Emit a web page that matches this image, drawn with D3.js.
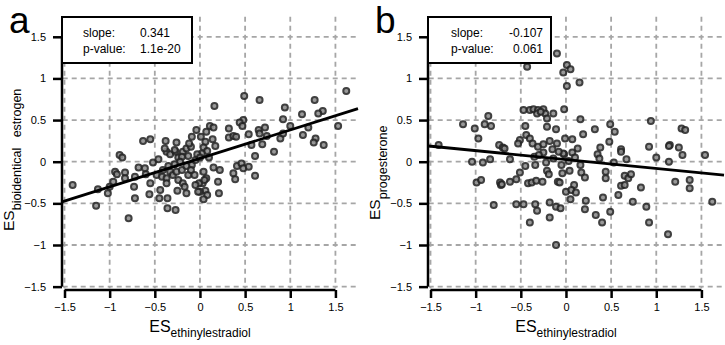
<!DOCTYPE html>
<html><head><meta charset="utf-8">
<script src="https://cdn.jsdelivr.net/npm/d3@7"></script>
<style>
body{margin:0;background:#fff}
svg{display:block}
text{font-family:"Liberation Sans",Arial,Helvetica,sans-serif}
</style>
</head><body>
<svg id="c" width="725" height="345"></svg>
<script>
// ---------------- data ----------------
const tickValues = [-1.5, -1, -0.5, 0, 0.5, 1, 1.5];
const panelLetters = ["a", "b"];
const xTitleMain = "ES", xTitleSub = "ethinylestradiol";
const yTitleSubs = ["bioidentical\u00a0\u00a0\u00a0estrogen", "progesterone"];
const slopes = [0.341, -0.107];
const intercepts = [0.04, 0.026];
const slopeLabels = ["0.341", "-0.107"];
const pValueLabels = ["1.1e-20", "0.061"];

// panel a: ES ethinylestradiol (x) vs ES bioidentical estrogen (y)
const pointsA = [
[1.62,0.85],[1.27,0.74],[1.36,0.61],[1.31,0.58],[1.13,0.57],[0.94,0.65],[0.92,0.51],[1.00,0.43],[1.20,0.41],[1.14,0.32],
[1.28,0.28],[1.26,0.23],[1.37,0.20],[1.53,0.43],[0.89,0.28],[0.92,0.34],[0.82,0.12],[0.66,0.74],[0.49,0.79],[0.16,0.67],
[0.72,0.41],[0.65,0.38],[0.66,0.34],[0.74,0.31],[0.54,0.33],[0.57,0.20],[0.69,0.21],[0.61,0.07],[0.48,0.50],[0.44,0.47],
[0.47,0.43],[0.32,0.40],[0.32,0.29],[0.37,0.31],[0.40,0.30],[0.11,0.43],[0.15,0.41],[0.07,0.36],[0.14,0.27],[0.17,0.19],
[0.06,0.24],[0.04,0.17],[0.08,0.13],[0.02,0.10],
[0.15,-0.07],[0.22,-0.10],[0.41,-0.05],[0.46,-0.02],[0.48,-0.08],[0.54,-0.06],[0.37,-0.14],[0.61,-0.17],[0.04,-0.12],[0.39,-0.21],
[0.20,-0.24],[0.21,-0.38],[0.07,-0.20],[0.03,-0.26],[0.06,-0.35],[0.08,-0.40],[0.04,-0.45],[0.00,-0.36],
[-1.41,-0.28],[-1.15,-0.53],[-0.79,-0.68],[-1.13,-0.33],[-1.02,-0.38],[-1.00,-0.30],[-0.89,0.08],[-0.86,0.05],[-0.94,-0.12],[-0.92,-0.15],
[-0.83,-0.13],[-0.83,-0.20],[-0.96,-0.24],[-0.72,-0.18],[-0.72,-0.44],[-0.73,-0.30],[-0.68,-0.07],[-0.61,-0.08],[-0.55,-0.26],[-0.56,-0.39],
[-0.52,-0.01],[-0.46,0.03],[-0.48,-0.16],[-0.42,-0.18],[-0.44,-0.34],[-0.45,-0.44],[-0.36,-0.44],[-0.36,-0.56],[-0.27,-0.58],[-0.41,-0.10],
[-0.37,-0.20],[-0.37,-0.26],[-0.33,-0.12],[-0.30,-0.16],[-0.26,-0.12],[-0.24,-0.22],[-0.20,-0.10],[-0.19,-0.26],[-0.17,-0.30],[-0.15,-0.38],
[-0.13,-0.16],[-0.09,-0.04],[-0.06,-0.16],[-0.02,-0.36],[-0.01,-0.26],[0.05,-0.22],
[-0.37,0.12],[-0.33,0.09],[-0.27,0.12],[-0.24,0.05],[-0.19,0.12],[-0.13,0.07],[-0.03,0.09],
[-0.63,0.25],[-0.55,0.27],[-0.38,0.25],[-0.26,0.23],[-0.39,0.16],[-0.28,0.14],[-0.20,0.06],[-0.15,0.16],[-0.09,0.30],[-0.04,0.38],
[-0.10,0.18],[-0.05,0.02],[0.00,0.05],[-0.15,-0.05],[-0.22,0.00],[-0.28,-0.03],[-0.12,0.22],[0.01,0.30],[0.10,0.05],[-0.35,-0.05],
[-0.10,-0.10],[-0.05,-0.28],[-0.25,-0.35],[-0.60,-0.15]
];

// panel b: ES ethinylestradiol (x) vs ES progesterone (y)
const pointsB = [
[-0.10,1.30],[-0.43,1.14],[0.01,1.16],[0.05,1.11],[-0.03,1.07],[0.01,0.91],[0.15,0.95],
[-0.86,0.55],[-0.47,0.62],[-0.40,0.62],[-0.36,0.63],[-0.31,0.62],[-0.25,0.63],[-0.32,0.58],[-0.23,0.58],[-0.21,0.52],[-0.02,0.63],[0.16,0.51],[0.94,0.49],
[-0.21,0.42],[-0.11,0.39],[-0.01,0.28],[-0.10,0.22],[-0.45,0.43],[-0.44,0.32],[-0.51,0.26],[-0.40,0.28],[-0.37,0.22],[-0.31,0.18],
[-1.14,0.45],[-0.90,0.45],[-0.83,0.43],[-1.01,0.40],[-0.97,0.28],[-0.74,0.20],[-0.70,0.17],[-1.41,0.20],
[0.49,0.45],[0.54,0.36],[0.32,0.39],[0.19,0.33],[0.07,0.27],[0.48,0.24],[1.28,0.40],[1.32,0.38],[0.92,0.18],[1.15,0.20],[1.25,0.17],[0.38,0.17],[0.61,0.15],[0.13,0.16],
[-1.04,0.00],[-0.92,-0.01],[-0.84,0.03],[-0.68,0.16],[-0.62,0.03],[-0.99,-0.25],[-0.94,-0.22],[-0.73,-0.25],[-0.72,-0.28],[-0.71,-0.27],
[-0.62,-0.24],[-0.55,-0.21],[-0.51,-0.13],[-0.45,-0.05],[-0.53,0.22],[-0.42,-0.26],[-0.38,-0.25],[-0.33,-0.23],[-0.26,-0.24],[-0.35,0.06],
[-0.34,-0.04],[-0.25,0.21],[-0.25,0.11],[-0.22,-0.01],[-0.21,-0.11],[-0.19,-0.15],[-0.14,0.04],[-0.09,-0.24],[-0.05,-0.04],[-0.04,-0.14],
[-0.02,0.09],[0.00,-0.36],
[-0.80,-0.52],[-0.55,-0.51],[-0.47,-0.51],[-0.34,-0.51],[-0.32,-0.59],[-0.18,-0.49],[-0.11,-0.54],[-0.06,-0.56],[-0.18,-0.67],[-0.40,-0.73],[-0.11,-1.00],
[-0.03,0.10],[0.07,0.11],[0.35,0.09],[0.37,0.04],[0.61,0.12],[0.67,0.03],[0.53,-0.01],[1.00,0.05],[1.14,0.19],[1.14,0.00],[1.29,0.08],[1.54,0.08],
[0.04,-0.11],[0.16,-0.04],[0.17,-0.13],[0.21,-0.19],[-0.07,-0.25],[0.09,-0.28],[0.06,-0.34],[0.11,-0.37],[0.05,-0.45],[0.21,-0.57],
[0.22,-0.47],[0.41,-0.43],[0.44,-0.12],[0.44,-0.20],[0.58,-0.40],[0.61,-0.29],[0.65,-0.28],[0.65,-0.17],[0.69,-0.20],[0.72,-0.15],
[0.74,-0.48],[0.83,-0.31],[0.89,-0.54],[0.49,-0.60],[0.33,-0.64],[0.40,-0.73],[0.92,-0.73],[1.13,-0.87],[1.21,-0.24],[1.37,-0.22],
[1.37,-0.32],[1.62,-0.48],[0.03,0.01],
[-0.15,0.15],[-0.30,0.08],[-0.18,0.25],[-0.08,0.12],[0.10,0.05],[-0.28,0.60],[-0.14,0.58]
];

const panelPoints = [pointsA, pointsB];

// ---------------- drawing ----------------
const svg = d3.select("#c");
const panelOffsets = [0, 366];
const yTitleBottoms = [231, 220];
const fmt = d => (d < 0 ? "\u2212" : "") + Math.abs(d);

panelOffsets.forEach((ox, i) => {
  const x = d3.scaleLinear().domain([-1.52, 1.75]).range([ox + 62.7, ox + 358.0]);
  const y = d3.scaleLinear().domain([-1.52, 1.74]).range([288.3, 16.8]);
  const g = svg.append("g");

  // grid
  const grid = g.append("g").attr("stroke", "#a6a6a6").attr("stroke-width", 1.8)
    .attr("stroke-dasharray", "5,4").attr("fill", "none");
  grid.selectAll("line.v").data(tickValues).join("line").attr("class", "v")
    .attr("x1", d => x(d)).attr("x2", d => x(d))
    .attr("y1", y(1.74)).attr("y2", y(-1.52));
  grid.selectAll("line.h").data(tickValues).join("line").attr("class", "h")
    .attr("y1", d => y(d)).attr("y2", d => y(d))
    .attr("x1", x(-1.52)).attr("x2", x(1.75));

  // points
  g.append("g").selectAll("circle").data(panelPoints[i]).join("circle")
    .attr("cx", d => x(d[0])).attr("cy", d => y(d[1])).attr("r", 3)
    .attr("fill", "#8c8c8c").attr("stroke", "#262626").attr("stroke-width", 2)
    .attr("opacity", 0.88);

  // regression line
  const xd = x.domain();
  g.append("line")
    .attr("x1", x(xd[0])).attr("y1", y(intercepts[i] + slopes[i] * xd[0]))
    .attr("x2", x(xd[1])).attr("y2", y(intercepts[i] + slopes[i] * xd[1]))
    .attr("stroke", "#000").attr("stroke-width", 2.8);

  // y axis
  const ya = g.append("g").attr("transform", `translate(${ox + 62},0)`)
    .call(d3.axisLeft(y).tickValues(tickValues).tickFormat(fmt).tickSize(9).tickPadding(7).tickSizeOuter(0));
  ya.select(".domain").remove();
  ya.append("line").attr("x1", 0).attr("x2", 0).attr("y1", y(1.5)).attr("y2", y(-1.5))
    .attr("stroke", "#000").attr("stroke-width", 2.5);
  ya.selectAll(".tick line").attr("stroke", "#000").attr("stroke-width", 2.5);
  ya.selectAll(".tick text").attr("font-size", 11).attr("fill", "#000")
    .attr("font-family", "Liberation Sans, Arial, sans-serif");

  // x axis
  const xa = g.append("g").attr("transform", "translate(0,290)")
    .call(d3.axisBottom(x).tickValues(tickValues).tickFormat(fmt).tickSize(8).tickPadding(5).tickSizeOuter(0));
  xa.select(".domain").remove();
  xa.append("line").attr("y1", 0).attr("y2", 0).attr("x1", x(-1.5)).attr("x2", x(1.5))
    .attr("stroke", "#000").attr("stroke-width", 2.5);
  xa.selectAll(".tick line").attr("stroke", "#000").attr("stroke-width", 2.5);
  xa.selectAll(".tick text").attr("font-size", 11).attr("fill", "#000")
    .attr("font-family", "Liberation Sans, Arial, sans-serif");

  // x title
  const xt = g.append("text").attr("x", x(0)).attr("y", 332).attr("text-anchor", "middle").attr("fill", "#000");
  xt.append("tspan").attr("font-size", 16).text(xTitleMain);
  xt.append("tspan").attr("font-size", 12).attr("dy", 5).text(xTitleSub);

  // y title (reads bottom to top)
  const yt = g.append("text").attr("transform", `translate(${ox + 13.5},${yTitleBottoms[i]}) rotate(-90)`)
    .attr("text-anchor", "start").attr("fill", "#000");
  yt.append("tspan").attr("font-size", 15.5).text(xTitleMain);
  yt.append("tspan").attr("font-size", 12.5).attr("dy", 7).text(yTitleSubs[i]);

  // panel letter
  g.append("text").attr("x", ox + 9).attr("y", 33).attr("font-size", 37).attr("fill", "#000").text(panelLetters[i]);

  // stats box
  const bw = i === 0 ? 130 : 123;
  g.append("rect").attr("x", ox + 62).attr("y", 17).attr("width", bw).attr("height", 46)
    .attr("fill", "#fff").attr("stroke", "#000").attr("stroke-width", 2);
  const lx = ox + (i === 0 ? 83 : 85);
  g.append("text").attr("x", lx).attr("y", 37).attr("font-size", 12).text("slope:");
  g.append("text").attr("x", lx).attr("y", 53).attr("font-size", 12).text("p-value:");
  if (i === 0) {
    g.append("text").attr("x", ox + 140).attr("y", 37).attr("font-size", 12).text(slopeLabels[i]);
    g.append("text").attr("x", ox + 140).attr("y", 53).attr("font-size", 12).text(pValueLabels[i]);
  } else {
    g.append("text").attr("x", ox + 177).attr("y", 37).attr("font-size", 12).attr("text-anchor", "end").text(slopeLabels[i]);
    g.append("text").attr("x", ox + 177).attr("y", 53).attr("font-size", 12).attr("text-anchor", "end").text(pValueLabels[i]);
  }
});
</script>
</body></html>
